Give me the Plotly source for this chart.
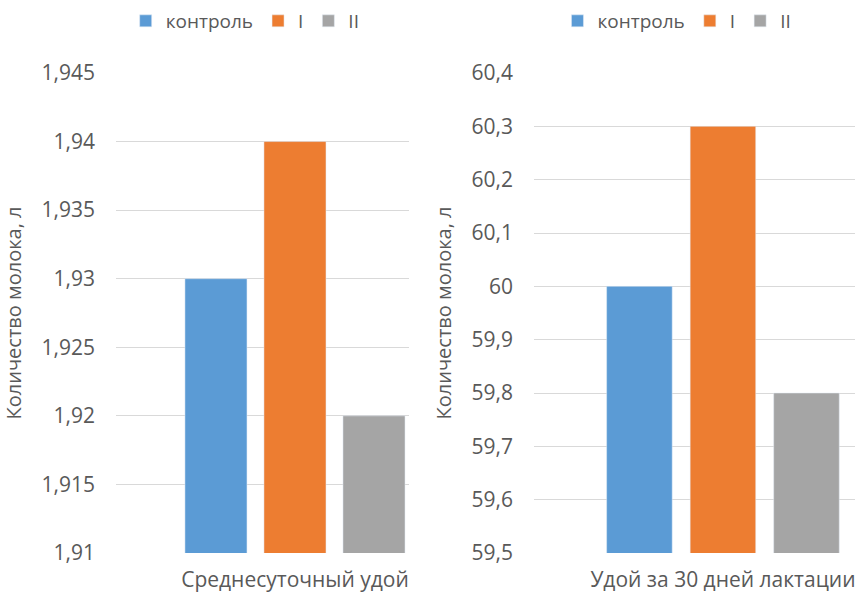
import plotly.graph_objects as go
from plotly.subplots import make_subplots

# Series names and colours
groups = ["контроль", "I", "II"]
colors = ["#5B9BD5", "#ED7D31", "#A5A5A5"]

# Left panel: average daily milk yield, litres
daily_category = ["Среднесуточный удой"]
daily_values = [1.93, 1.94, 1.92]

# Right panel: milk yield over 30 days of lactation, litres
month_category = ["Удой за 30 дней лактации"]
month_values = [60.0, 60.3, 59.8]

y_title = "Количество молока, л"

FONT = "Open Sans"
TEXT = "#595959"
GRID = "#D9D9D9"

fig = make_subplots(rows=1, cols=2)

for name, color, v in zip(groups, colors, daily_values):
    fig.add_trace(go.Bar(x=daily_category, y=[v], name=name, marker_color=color,
                         legend="legend", showlegend=True), row=1, col=1)
for name, color, v in zip(groups, colors, month_values):
    fig.add_trace(go.Bar(x=month_category, y=[v], name=name, marker_color=color,
                         legend="legend2", showlegend=True), row=1, col=2)

xtick_font = dict(family=FONT, size=21, color=TEXT)
ytick_font = dict(family=FONT, size=21, color=TEXT)
legend_font = dict(family=FONT, size=19, color=TEXT)
title_font = dict(family=FONT, size=20, color=TEXT)

y_domain = [1 - 553 / 595, 1 - 73 / 595]

fig.update_layout(
    width=855, height=595,
    margin=dict(l=0, r=0, t=0, b=0),
    paper_bgcolor="white", plot_bgcolor="white",
    separators=", ",
    barmode="group", bargap=0, bargroupgap=0.215,
    font=dict(family=FONT, color=TEXT),
    legend=dict(orientation="h", x=0.147, y=1 - 21 / 595, xanchor="left", yanchor="middle",
                font=legend_font, itemwidth=30, bgcolor="rgba(0,0,0,0)"),
    legend2=dict(orientation="h", x=0.652, y=1 - 21 / 595, xanchor="left", yanchor="middle",
                 font=legend_font, itemwidth=30, bgcolor="rgba(0,0,0,0)"),
    xaxis=dict(domain=[116 / 855, 409 / 855], range=[-0.755, 0.481], automargin=False,
               showgrid=False, showline=False, ticks="", tickfont=xtick_font,
               ticklabelstandoff=12),
    xaxis2=dict(domain=[534 / 855, 1.0], range=[-0.754, 0.527], automargin=False,
                showgrid=False, showline=False, ticks="", tickfont=xtick_font,
                ticklabelstandoff=12),
    yaxis=dict(domain=y_domain, range=[1.91, 1.945], automargin=False,
               tick0=1.91, dtick=0.005, tickformat=".3~f",
               showgrid=True, gridcolor=GRID, gridwidth=1, zeroline=False,
               showline=False, tickfont=ytick_font, ticklabelstandoff=20,
               title=dict(text=y_title, font=title_font, standoff=14)),
    yaxis2=dict(domain=y_domain, range=[59.5, 60.4], automargin=False,
                tick0=59.5, dtick=0.1, tickformat=".1~f",
                showgrid=True, gridcolor=GRID, gridwidth=1, zeroline=False,
                showline=False, tickfont=ytick_font, ticklabelstandoff=20,
                title=dict(text=y_title, font=title_font, standoff=14)),
)

fig.write_html("out.html")
